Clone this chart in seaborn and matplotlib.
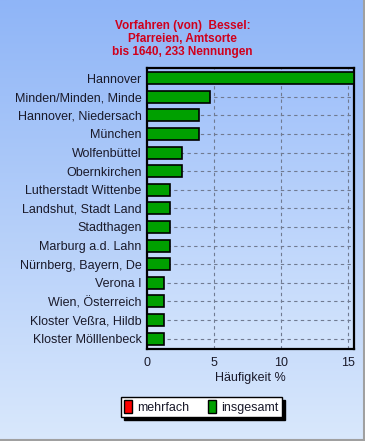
import numpy as np
import pandas as pd
import matplotlib
matplotlib.use('Agg')
import matplotlib.pyplot as plt
import seaborn as sns
from matplotlib.patches import Patch
from matplotlib.ticker import MultipleLocator

# Daten
orte = ['Hannover', 'Minden/Minden, Minde', 'Hannover, Niedersach', 'München',
        'Wolfenbüttel', 'Obernkirchen', 'Lutherstadt Wittenbe', 'Landshut, Stadt Land',
        'Stadthagen', 'Marburg a.d. Lahn', 'Nürnberg, Bayern, De', 'Verona I',
        'Wien, Österreich', 'Kloster Veßra, Hildb', 'Kloster Mölllenbeck']
insgesamt = [15.45, 4.72, 3.86, 3.86, 2.58, 2.58, 1.72, 1.72,
             1.72, 1.72, 1.72, 1.29, 1.29, 1.29, 1.29]
titel = 'Vorfahren (von)  Bessel:\nPfarreien, Amtsorte\nbis 1640, 233 Nennungen'

df = pd.DataFrame({'Ort': orte, 'Wert': insgesamt})

sns.set_style('white')
plt.rcParams['font.family'] = ['Liberation Sans', 'DejaVu Sans']

fig = plt.figure(figsize=(3.65, 4.41), dpi=100)

# Hintergrund mit Verlauf
bg = fig.add_axes([0, 0, 1, 1], zorder=-10)
grad = np.linspace(0, 1, 256).reshape(-1, 1)
cmap_bg = matplotlib.colors.LinearSegmentedColormap.from_list('bg', ['#8fb5f7', '#d9e8fc'])
bg.imshow(grad, aspect='auto', cmap=cmap_bg, extent=[0, 1, 0, 1], origin='upper')
bg.set_axis_off()
for x0, y0, x1, y1 in [(0, 0.002, 1, 0.002), (0.997, 0, 0.997, 1)]:
    bg.plot([x0, x1], [y0, y1], color='#a0a0a0', lw=1.5, transform=bg.transAxes)
bg.set_xlim(0, 1)
bg.set_ylim(0, 1)

# Diagrammbereich
ax = fig.add_axes([0.403, 0.209, 0.567, 0.637])
ax.set_facecolor('none')
cmap_ax = matplotlib.colors.LinearSegmentedColormap.from_list('ax', ['#9fc0fa', '#d3e4fc'])
ax.imshow(grad, aspect='auto', cmap=cmap_ax, extent=[0, 1, 0, 1], origin='upper',
          transform=ax.transAxes, zorder=0)

sns.barplot(data=df, x='Wert', y='Ort', color='#00a000', edgecolor='black',
            linewidth=1.2, width=0.65, saturation=1, ax=ax, zorder=3)

ax.set_xlim(0, 15.45)
ax.set_ylim(14.55, -0.55)
ax.xaxis.set_major_locator(MultipleLocator(5))
ax.xaxis.set_minor_locator(MultipleLocator(1))
ax.grid(True, axis='both', which='major', color='#707a90', linestyle=(0, (3, 3)), lw=0.8, zorder=1)
ax.set_axisbelow(True)
ax.tick_params(axis='both', which='major', length=3, width=0.8, color='#555555',
               labelsize=9, labelcolor='#1a1a2a', pad=1)
ax.tick_params(axis='x', which='minor', length=2, width=0.6, color='#555555')
ax.tick_params(axis='x', pad=3)
for s in ax.spines.values():
    s.set_linewidth(1.6)
    s.set_color('black')
ax.set_xlabel('Häufigkeit %', fontsize=9, color='#1a1a2a', labelpad=2)
ax.set_ylabel('')

fig.text(0.5, 0.955, titel, ha='center', va='top', color='#d0001c',
         fontsize=8.5, fontweight='bold', linespacing=1.12)

# Legende
handles = [Patch(facecolor='#ff0000', edgecolor='black', label='mehrfach'),
           Patch(facecolor='#00a000', edgecolor='black', label='insgesamt')]
leg = fig.legend(handles=handles, loc='center', bbox_to_anchor=(0.552, 0.077), ncol=2,
                 frameon=True, fancybox=False, shadow={'color': 'black', 'alpha': 1},
                 edgecolor='black', framealpha=1, fontsize=9, handlelength=0.6,
                 handleheight=1.2, handletextpad=0.45, columnspacing=1.5,
                 borderpad=0.25, borderaxespad=0)
leg.get_frame().set_linewidth(1.0)
for t in leg.get_texts():
    t.set_color('#1a1a2a')

fig.savefig('out.png', dpi=100)
